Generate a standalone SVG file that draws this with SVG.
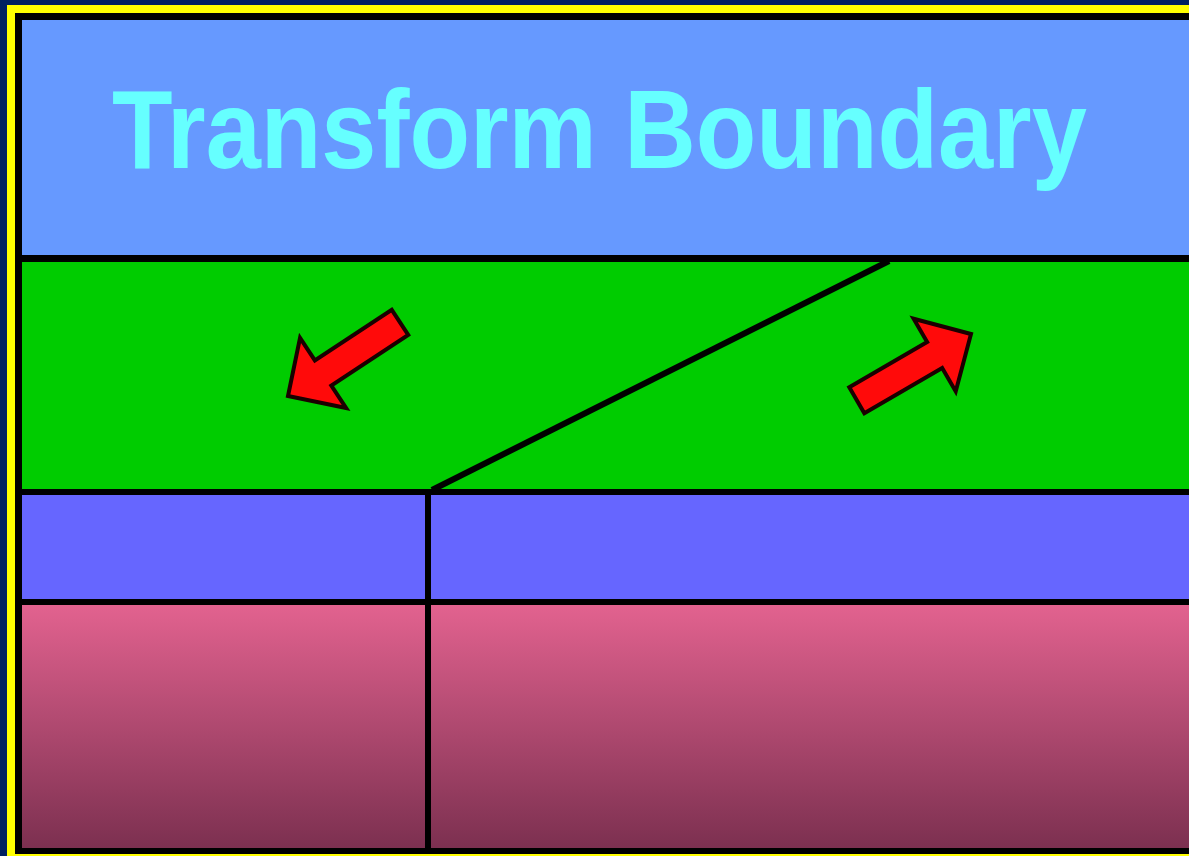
<svg xmlns="http://www.w3.org/2000/svg" width="1189" height="856" viewBox="0 0 1189 856">
<defs>
<linearGradient id="mantle" x1="0" y1="0" x2="0" y2="1">
<stop offset="0" stop-color="#E2628F"/>
<stop offset="1" stop-color="#7C3050"/>
</linearGradient>
<style>
.edge{stroke:#000;stroke-width:6;fill:none}
.arrow{fill:#FF0A0A;stroke:#1a0000;stroke-width:4;stroke-linejoin:miter}
.title{font-family:"Liberation Sans",Arial,sans-serif;font-weight:bold;font-size:112px;fill:#66FFFF}
</style>
</defs>
<rect x="0" y="0" width="1189" height="856" fill="#002060"/>
<rect x="7" y="5" width="1182" height="851" fill="#FFFF00"/>
<rect x="15" y="13" width="1174" height="841" fill="#000"/>
<g id="sky">
<rect x="22" y="20" width="1167" height="235" fill="#6699FF"/>
<text class="title" transform="translate(112 168) scale(0.885 1)" x="0" y="0">Transform Boundary</text>
</g>
<g id="crust">
<rect x="22" y="262" width="1167" height="227" fill="#00CC00"/>
</g>
<g id="lithosphere">
<rect x="22" y="495" width="1167" height="104" fill="#6666FF"/>
</g>
<g id="mantle-layer">
<rect x="22" y="605" width="1167" height="243" fill="url(#mantle)"/>
</g>
<g id="connectors">
<line class="edge" x1="22" y1="258.5" x2="1189" y2="258.5" stroke-width="7"/>
<line class="edge" x1="22" y1="492" x2="1189" y2="492"/>
<line class="edge" x1="22" y1="602" x2="1189" y2="602"/>
<line class="edge" x1="428" y1="489" x2="428" y2="848"/>
<line class="edge" x1="432" y1="490" x2="889" y2="261" stroke-width="4"/>
</g>
<g id="arrow-left">
<polygon class="arrow" transform="translate(288 396) rotate(146.7)" points="0,0 -42,-42 -42,-15 -134,-15 -134,15 -42,15 -42,42"/>
</g>
<g id="arrow-right">
<polygon class="arrow" transform="translate(971 334) rotate(-30.1)" points="0,0 -42,-42 -42,-15 -132,-15 -132,15 -42,15 -42,42"/>
</g>
</svg>
